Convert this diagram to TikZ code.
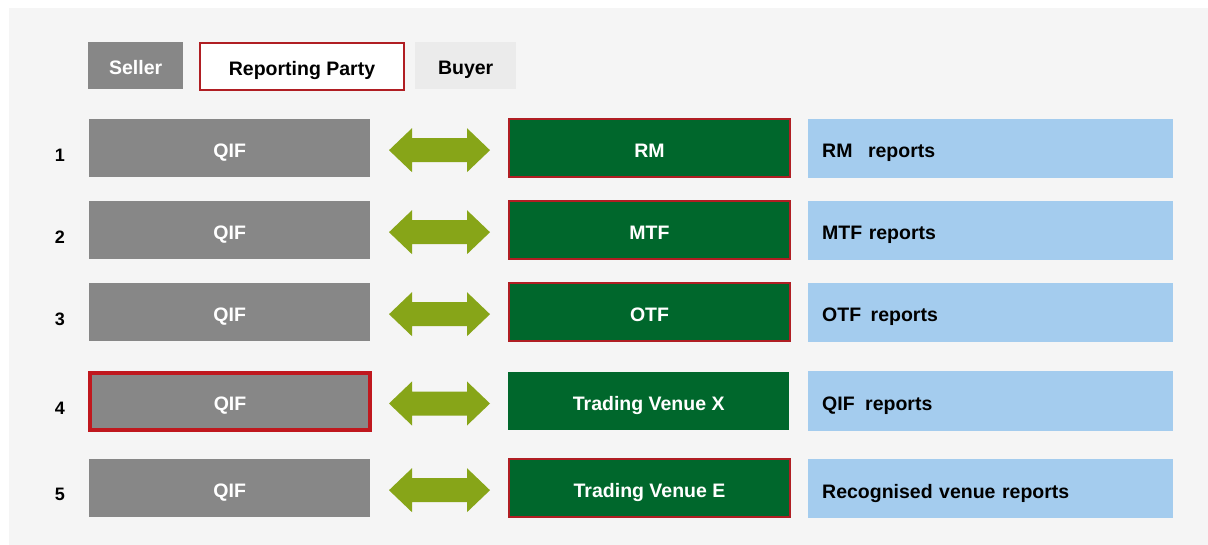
\documentclass[tikz,border=0pt]{standalone}
\usepackage{fontspec}
\setmainfont{Liberation Sans}
\definecolor{panel}{HTML}{F5F5F5}
\definecolor{sellergray}{HTML}{878787}
\definecolor{buyergray}{HTML}{EBEBEB}
\definecolor{venuegreen}{HTML}{00672C}
\definecolor{partyred}{HTML}{B01E23}
\definecolor{brightred}{HTML}{C0181E}
\definecolor{arrowgreen}{HTML}{87A518}
\definecolor{reportblue}{HTML}{A4CCEE}
\begin{document}
\begin{tikzpicture}[x=1pt,y=-1pt,
  font=\fontsize{19.5}{23}\selectfont\bfseries,
  every node/.style={text height=18.6pt, text depth=0pt},
  legendbox/.style={anchor=north west, inner sep=0pt, minimum height=47pt},
  qifbox/.style={anchor=north west, inner sep=0pt, fill=sellergray, text=white, minimum width=281pt, minimum height=58pt},
  venuebox/.style={anchor=north west, inner sep=0pt, fill=venuegreen, text=white, minimum width=281pt, minimum height=58pt},
  partyline/.style={draw=partyred, line width=2pt},
  reportbox/.style={anchor=north west, fill=reportblue, text=black, inner xsep=14pt, inner ysep=0pt, text width=337pt, align=left, minimum height=59pt},
  rownum/.style={text=black, inner sep=0pt, font=\fontsize{18}{22}\selectfont\bfseries},
  blockarrow/.style={fill=arrowgreen}
]
\fill[white] (0,0) rectangle (1208,545);
\fill[panel] (9,8) rectangle (1208,545);

% legend
\node[legendbox, fill=sellergray, text=white, minimum width=95pt] (seller) at (88,42) {Seller};
\node[legendbox, partyline, fill=white, text=black, minimum width=204pt, minimum height=47pt] (party) at (199,42) {Reporting Party};
\node[legendbox, fill=buyergray, text=black, minimum width=101pt] (buyer) at (415,42) {Buyer};

% row 1
\node[rownum] (n1) at (60,152) {1};
\node[qifbox] (q1) at (89,119) {QIF};
\node[venuebox, partyline, minimum width=281pt, minimum height=58pt] (v1) at (508,118) {RM};
\node[reportbox] (r1) at (808,119) {RM\hspace{9pt} reports};
% row 2
\node[rownum] (n2) at (60,234) {2};
\node[qifbox] (q2) at (89,201) {QIF};
\node[venuebox, partyline, minimum width=281pt, minimum height=58pt] (v2) at (508,200) {MTF};
\node[reportbox] (r2) at (808,201) {MTF reports};
% row 3
\node[rownum] (n3) at (60,316) {3};
\node[qifbox] (q3) at (89,283) {QIF};
\node[venuebox, partyline, minimum width=281pt, minimum height=58pt] (v3) at (508,282) {OTF};
\node[reportbox] (r3) at (808,283) {OTF\hspace{3pt} reports};
% row 4
\node[rownum] (n4) at (60,405) {4};
\node[qifbox, draw=brightred, line width=4pt, minimum width=280pt, minimum height=57pt] (q4) at (88,371) {QIF};
\node[venuebox] (v4) at (508,372) {Trading Venue X};
\node[reportbox, minimum height=60pt] (r4) at (808,371) {QIF\hspace{4pt} reports};
% row 5
\node[rownum] (n5) at (60,491) {5};
\node[qifbox] (q5) at (89,459) {QIF};
\node[venuebox, partyline, minimum width=281pt, minimum height=58pt] (v5) at (508,458) {Trading Venue E};
\node[reportbox] (r5) at (808,459) {Recognised venue reports};

% double block arrows between seller and venue
\foreach \q/\v in {q1/v1,q2/v2,q3/v3,q4/v4,q5/v5}{
  \path (\q.east) ++(0,2) coordinate (c);
  \path (c -| 389,0) coordinate (a);
  \fill[blockarrow] (a) -- ++(23,-22) -- ++(0,10) -- ++(55,0) -- ++(0,-10) -- ++(23,22)
     -- ++(-23,22) -- ++(0,-10) -- ++(-55,0) -- ++(0,10) -- cycle;
}
\end{tikzpicture}
\end{document}
